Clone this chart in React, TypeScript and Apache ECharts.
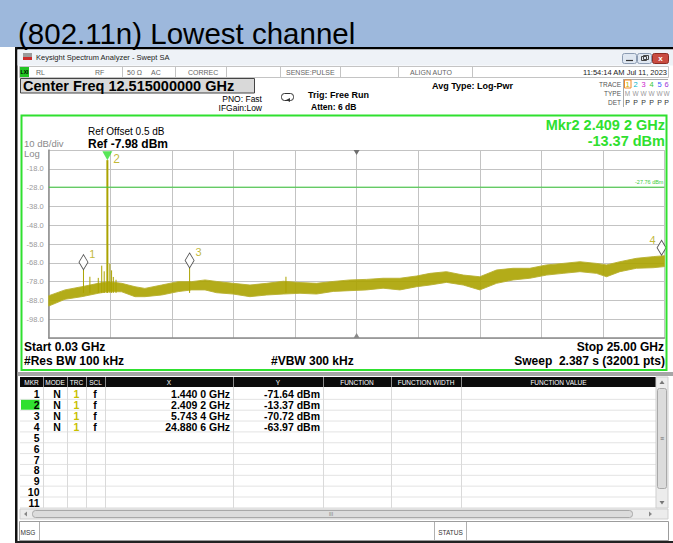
import React, { useEffect, useRef } from 'react';
import * as echarts from 'echarts';

// ---------- data ----------
const START_GHZ = 0.03;
const STOP_GHZ = 25.0;
const CENTER_GHZ = 12.515;
const REF_DBM = -7.98;
const DB_PER_DIV = 10;
const DISPLAY_LINE_DBM = -27.76;
const Y_TICK_LABELS = ['-18.0', '-28.0', '-38.0', '-48.0', '-58.0', '-68.0', '-78.0', '-88.0', '-98.0'];

// noise floor envelope (upper / lower edge of the band)
const NOISE_GHZ = [0.03, 0.69, 1.37, 2.04, 2.45, 2.99, 3.53, 3.93, 4.61, 5.28, 5.83, 6.37, 6.84, 7.51, 8.19, 8.87, 9.54, 10.22, 10.89, 11.57, 12.24, 12.92, 13.59, 14.27, 14.95, 15.49, 16.16, 16.84, 17.51, 18.19, 18.86, 19.54, 20.22, 20.89, 21.57, 22.24, 22.65, 23.19, 23.86, 24.54, 25.0];
const NOISE_UPPER_DBM = [-85.5, -82.4, -80.7, -78.9, -78.0, -78.9, -80.7, -81.6, -79.8, -78.0, -78.0, -77.1, -77.9, -78.9, -79.8, -78.9, -77.8, -78.5, -78.9, -77.9, -77.1, -76.8, -76.2, -76.2, -75.0, -73.6, -72.7, -74.5, -75.4, -71.8, -70.9, -70.9, -69.1, -68.3, -67.4, -68.3, -69.1, -67.4, -65.6, -64.7, -64.2];
const NOISE_LOWER_DBM = [-91.0, -87.4, -86.0, -84.2, -83.3, -83.4, -86.0, -86.0, -85.1, -83.3, -82.4, -82.4, -83.9, -84.6, -86.0, -85.1, -84.6, -84.2, -84.6, -83.2, -82.8, -82.4, -81.5, -82.4, -80.7, -79.8, -78.4, -79.8, -82.4, -78.9, -77.1, -76.2, -74.5, -73.6, -72.7, -73.6, -75.4, -72.7, -70.9, -70.6, -70.0];

// narrow spurs standing out of the noise
const SPIKE_GHZ = [1.44, 1.7, 2.04, 2.18, 2.28, 2.51, 2.58, 2.65, 2.76, 5.7434, 9.65];
const SPIKE_DBM = [-71.64, -75.4, -76.0, -69.5, -72.5, -68.5, -72.0, -75.5, -77.0, -70.72, -75.4];
const SPIKE_BASE_DBM = -84;
const CARRIER_GHZ = [2.4092];
const CARRIER_DBM = [-13.37];

// markers
const MARKER_IDS = ['1', '2', '3', '4'];
const MARKER_GHZ = [1.44, 2.4092, 5.7434, 24.8806];
const MARKER_DBM = [-71.64, -13.37, -70.72, -63.97];
const ACTIVE_MARKER = 1;

const TABLE_ROWS = ['1', '2', '3', '4', '5', '6', '7', '8', '9', '10', '11'];
const TABLE_HEADERS = ['MKR', 'MODE', 'TRC', 'SCL', 'X', 'Y', 'FUNCTION', 'FUNCTION WIDTH', 'FUNCTION VALUE'];

// ---------- styles ----------
const FONT = '"Liberation Sans", Arial, Helvetica, sans-serif';
const TRACE_COLOR = '#aba300';
const GREEN = '#2fe02f';
const GRID_COLOR = '#c3c3c3';

const fmtGHz = (f: number) => {
  const s = f.toFixed(4);
  return s.slice(0, -1) + ' ' + s.slice(-1) + ' GHz';
};
const fmtDbm = (v: number) => v.toFixed(2) + ' dBm';

function T(x: number, y: number, text: string, size: number, o: any = {}) {
  const align = o.align || 'left';
  return {
    type: 'text', x, y, z: 60, silent: true,
    style: {
      text,
      font: `${o.bold ? 'bold ' : ''}${size}px ${FONT}`,
      fill: o.color || '#000',
      align, verticalAlign: 'middle', textAlign: align, textVerticalAlign: 'middle',
    },
  };
}
function R(x: number, y: number, w: number, h: number, fill: string, stroke?: string, lw = 1, z = 5, r = 0) {
  return {
    type: 'rect', z, silent: true,
    shape: { x, y, width: w, height: h, r },
    style: { fill, stroke: stroke || 'none', lineWidth: stroke ? lw : 0 },
  };
}
function L(x1: number, y1: number, x2: number, y2: number, stroke: string, lw = 1, z = 6) {
  return { type: 'line', z, silent: true, shape: { x1, y1, x2, y2 }, style: { stroke, lineWidth: lw } };
}
function P(points: number[][], fill: string, z = 7) {
  return { type: 'polygon', z, silent: true, shape: { points }, style: { fill } };
}

function buildUi() {
  const ui: any[] = [];
  // slide header
  ui.push(R(0, 0, 673, 47, '#9db8dc', undefined, 0, 1));
  ui.push(T(18, 33, '(802.11n) Lowest channel', 29.5, { color: '#000' }));
  ui.push(R(15, 47, 658, 2.5, '#000', undefined, 0, 2));
  ui.push(R(15, 47, 2.5, 496, '#111', undefined, 0, 2));
  ui.push(R(15, 541, 658, 2, '#222', undefined, 0, 2));

  // window title bar
  ui.push(R(17.5, 49.5, 655.5, 16, '#eef2f7', undefined, 0, 2));
  ui.push(R(23, 53, 9, 4, '#9a9a9a', undefined, 0, 3));
  ui.push(R(23, 57, 9, 3, '#cc2a2a', undefined, 0, 3));
  ui.push(T(36, 57.5, 'Keysight Spectrum Analyzer - Swept SA', 7.5, { color: '#222' }));
  ui.push(R(622.5, 53.5, 14, 10, '#dfe7f1', '#8b9bb2', 1, 3, 2));
  ui.push(L(626, 60.5, 633, 60.5, '#333', 1.2, 4));
  ui.push(R(637.5, 53.5, 14, 10, '#dfe7f1', '#8b9bb2', 1, 3, 2));
  ui.push(R(641.5, 56.5, 5, 4, 'none', '#444', 1, 4));
  ui.push(R(643.5, 55.5, 5, 4, 'none', '#444', 1, 4));
  ui.push(R(652.5, 53.5, 16, 10, '#c94b40', '#8c2c24', 1, 3, 2));
  ui.push(T(660.5, 58.5, 'x', 8, { bold: true, color: '#fff', align: 'center' }));

  // status row
  ui.push(R(19.5, 66.5, 649, 11, '#ffffff', '#c4c4c4', 1, 2));
  ui.push(R(20, 67, 9, 10, '#22c422', undefined, 0, 3));
  ui.push(T(24.5, 72, 'LXI', 5, { bold: true, align: 'center', color: '#000' }));
  const stat: [number, string][] = [[36, 'RL'], [95, 'RF'], [127, '50 Ω'], [151, 'AC'], [188, 'CORREC'], [286, 'SENSE:PULSE'], [410, 'ALIGN AUTO']];
  stat.forEach(([x, s]) => ui.push(T(x, 72, s, 7, { color: '#666' })));
  ui.push(T(667, 72, '11:54:14 AM Jul 11, 2023', 7.5, { color: '#222', align: 'right' }));
  [122, 175, 226, 280, 340, 398, 472].forEach((x) => ui.push(L(x + 0.5, 67, x + 0.5, 77, '#c4c4c4', 1, 3)));

  // center freq box
  ui.push(R(20.5, 78.5, 234, 14.5, '#d9d9d9', '#444', 1, 3));
  ui.push(T(23, 86, 'Center Freq 12.515000000 GHz', 14.5, { bold: true }));
  ui.push(T(262, 98.5, 'PNO: Fast', 8.5, { align: 'right' }));
  ui.push(T(262, 107.5, 'IFGain:Low', 8.5, { align: 'right' }));
  ui.push(R(281.5, 93.5, 12, 7, 'none', '#333', 1, 3, 3));
  ui.push(P([[286, 100], [290, 98], [290, 102]], '#333', 4));
  ui.push(T(308, 94.5, 'Trig: Free Run', 9, { bold: true }));
  ui.push(T(311, 106.5, 'Atten: 6 dB', 8.5, { bold: true }));
  ui.push(T(432, 86, 'Avg Type: Log-Pwr', 9, { bold: true }));

  // trace/type/det block
  ui.push(T(621, 84, 'TRACE', 6.5, { color: '#555', align: 'right' }));
  ui.push(T(621, 93, 'TYPE', 6.5, { color: '#555', align: 'right' }));
  ui.push(T(621, 102, 'DET', 6.5, { color: '#555', align: 'right' }));
  ui.push(L(623.5, 79, 623.5, 107, '#aaa', 1, 3));
  ui.push(L(623.5, 79.5, 668, 79.5, '#aaa', 1, 3));
  const trCols = ['#c8b400', '#00b6cc', '#cc22cc', '#33c833', '#3a5cff', '#a035d6'];
  const trX = [627.5, 635.5, 643.5, 651.5, 659.5, 666.5];
  ui.push(R(624.5, 80, 6.5, 8, 'none', '#f08a28', 1, 3));
  trX.forEach((x, i) => {
    ui.push(T(x, 84.5, String(i + 1), 7.5, { color: trCols[i], align: 'center' }));
    ui.push(T(x, 93, i === 0 ? 'M' : 'W', 6.5, { color: '#999', align: 'center' }));
    ui.push(T(x, 102, 'P', 7, { color: '#333', align: 'center' }));
  });

  // graph frame & texts
  ui.push({ type: 'rect', z: 100, silent: true, shape: { x: 21.5, y: 115.5, width: 645, height: 254.5 }, style: { fill: 'none', stroke: GREEN, lineWidth: 2 } });
  ui.push(T(88, 131, 'Ref Offset 0.5 dB', 10));
  ui.push(T(88, 143.5, `Ref ${REF_DBM.toFixed(2)} dBm`, 12, { bold: true }));
  ui.push(T(24, 143.5, `${DB_PER_DIV} dB/div`, 9.5, { color: '#8a8a8a' }));
  ui.push(T(24, 153.5, 'Log', 9.5, { color: '#8a8a8a' }));
  ui.push(T(665, 124.5, `Mkr${MARKER_IDS[ACTIVE_MARKER]} ${fmtGHz(MARKER_GHZ[ACTIVE_MARKER])}`, 14.5, { bold: true, color: GREEN, align: 'right' }));
  ui.push(T(665, 140.5, fmtDbm(MARKER_DBM[ACTIVE_MARKER]), 14.5, { bold: true, color: GREEN, align: 'right' }));
  ui.push(T(24, 347, `Start ${START_GHZ.toFixed(2)} GHz`, 12, { bold: true }));
  ui.push(T(24, 361, '#Res BW 100 kHz', 12, { bold: true }));
  ui.push(T(271, 361, '#VBW 300 kHz', 12, { bold: true }));
  ui.push(T(664, 347, `Stop ${STOP_GHZ.toFixed(2)} GHz`, 12, { bold: true, align: 'right' }));
  ui.push(T(665, 361, 'Sweep  2.387 s (32001 pts)', 12, { bold: true, align: 'right' }));

  // marker table
  ui.push(R(17.5, 372, 655.5, 4, '#a6a6a6', undefined, 0, 2));
  const cols = [20, 43, 67, 86, 105, 233, 323, 391, 461, 656];
  ui.push(R(20, 377, 636, 10, '#0b0b0b', undefined, 0, 3));
  TABLE_HEADERS.forEach((h, i) => ui.push(T((cols[i] + cols[i + 1]) / 2, 382.5, h, 6.5, { color: '#fff', align: 'center' })));
  cols.slice(1, -1).forEach((x) => ui.push(L(x + 0.5, 377, x + 0.5, 387, '#8a8a8a', 1, 4)));
  ui.push(R(20, 387, 636, 121, '#ffffff', undefined, 0, 2));
  const rowTop = 388.5, rowH = 10.85;
  for (let k = 1; k <= 11; k++) ui.push(L(20, rowTop + k * rowH, 656, rowTop + k * rowH, '#e3e3e3', 1, 3));
  cols.slice(1, -1).forEach((x) => ui.push(L(x + 0.5, 387, x + 0.5, 508, '#dadada', 1, 3)));
  ui.push(R(21, rowTop + rowH * ACTIVE_MARKER + 0.5, 18.5, rowH - 1, GREEN, undefined, 0, 4));
  TABLE_ROWS.forEach((r, i) => {
    const y = rowTop + rowH * i + rowH / 2 + 0.5;
    ui.push(T(39.5, y, r, 10.5, { bold: true, align: 'right' }));
    if (i < MARKER_IDS.length) {
      ui.push(T(57, y, 'N', 10.5, { bold: true, align: 'center' }));
      ui.push(T(76.5, y, '1', 10.5, { bold: true, align: 'center', color: '#c8c000' }));
      ui.push(T(95, y, 'f', 10.5, { bold: true, align: 'center' }));
      ui.push(T(230, y, fmtGHz(MARKER_GHZ[i]), 10.5, { bold: true, align: 'right' }));
      ui.push(T(320, y, fmtDbm(MARKER_DBM[i]), 10.5, { bold: true, align: 'right' }));
    }
  });
  // vertical scrollbar
  ui.push(R(656, 377, 12, 131, '#ececec', '#cfcfcf', 1, 3));
  ui.push(P([[659.5, 384], [664.5, 384], [662, 380.5]], '#777', 5));
  ui.push(R(657.5, 388.5, 9, 100, '#dcdcdc', '#a9a9a9', 1, 4, 2));
  ui.push(T(662, 438.5, '≡', 7, { color: '#666', align: 'center' }));
  ui.push(P([[659.5, 501], [664.5, 501], [662, 504.5]], '#777', 5));
  // horizontal scrollbar
  ui.push(R(20, 509, 648, 10, '#ececec', '#cfcfcf', 1, 3));
  ui.push(P([[27, 511.5], [27, 516.5], [24, 514]], '#888', 5));
  ui.push(R(32.5, 510.5, 600, 7, '#dcdcdc', '#a9a9a9', 1, 4, 3));
  ui.push(T(331, 514, 'III', 5, { color: '#777', align: 'center' }));
  ui.push(P([[649, 511.5], [649, 516.5], [652, 514]], '#888', 5));
  // msg row
  ui.push(R(19.5, 521.5, 649, 19, '#ffffff', '#9c9c9c', 1, 3));
  ui.push(T(20.5, 532, 'MSG', 6.5, { color: '#333' }));
  ui.push(L(39.5, 522, 39.5, 540, '#b0b0b0', 1, 4));
  ui.push(L(434.5, 522, 434.5, 540, '#b0b0b0', 1, 4));
  ui.push(L(466.5, 522, 466.5, 540, '#b0b0b0', 1, 4));
  ui.push(T(450.5, 532, 'STATUS', 6.5, { color: '#333', align: 'center' }));
  return ui;
}

function buildOption(): any {
  const diamondIdx = MARKER_IDS.map((_, i) => i).filter((i) => i !== ACTIVE_MARKER);
  return {
    animation: false,
    backgroundColor: '#ffffff',
    textStyle: { fontFamily: FONT },
    grid: { left: 48.7, top: 150, right: 8.5, bottom: 205, containLabel: false },
    xAxis: [
      { type: 'value', min: START_GHZ, max: STOP_GHZ, show: false },
      {
        type: 'value', min: 0, max: 10, interval: 1, position: 'bottom',
        axisLine: { show: true, lineStyle: { color: '#8c8c8c', width: 1.5 } },
        axisTick: { show: false }, axisLabel: { show: false },
        splitLine: { show: true, lineStyle: { color: GRID_COLOR, width: 1 } },
      },
    ],
    yAxis: [
      { type: 'value', min: REF_DBM - 10 * DB_PER_DIV, max: REF_DBM, show: false },
      {
        type: 'value', min: 0, max: 10, interval: 1, position: 'left',
        axisLine: { show: true, lineStyle: { color: '#8c8c8c', width: 1.5 } },
        axisTick: { show: false },
        axisLabel: {
          show: true, margin: 5, fontSize: 7.5, color: '#9a9a9a', fontFamily: FONT,
          formatter: (v: number) => (v >= 1 && v <= 9 ? Y_TICK_LABELS[9 - v] : ''),
        },
        splitLine: { show: true, lineStyle: { color: GRID_COLOR, width: 1 } },
      },
    ],
    graphic: { elements: buildUi() },
    series: [
      {
        name: 'noise', type: 'custom', xAxisIndex: 0, yAxisIndex: 0, silent: true, z: 3,
        data: [[START_GHZ, NOISE_UPPER_DBM[0]]],
        renderItem: (_p: any, api: any) => {
          const pts: number[][] = [];
          for (let i = 0; i < NOISE_GHZ.length; i++) pts.push(api.coord([NOISE_GHZ[i], NOISE_UPPER_DBM[i]]));
          for (let i = NOISE_GHZ.length - 1; i >= 0; i--) pts.push(api.coord([NOISE_GHZ[i], NOISE_LOWER_DBM[i]]));
          return { type: 'polygon', shape: { points: pts }, style: { fill: TRACE_COLOR, opacity: 0.9, stroke: '#b8b030', lineWidth: 1 } };
        },
      },
      {
        name: 'spurs', type: 'custom', xAxisIndex: 0, yAxisIndex: 0, silent: true, z: 4,
        data: SPIKE_GHZ.map((f, i) => [f, SPIKE_DBM[i]]),
        renderItem: (_p: any, api: any) => {
          const top = api.coord([api.value(0), api.value(1)]);
          const bot = api.coord([api.value(0), SPIKE_BASE_DBM]);
          return { type: 'line', shape: { x1: top[0], y1: top[1], x2: bot[0], y2: bot[1] }, style: { stroke: TRACE_COLOR, lineWidth: 1 } };
        },
      },
      {
        name: 'carrier', type: 'custom', xAxisIndex: 0, yAxisIndex: 0, silent: true, z: 4,
        data: CARRIER_GHZ.map((f, i) => [f, CARRIER_DBM[i]]),
        renderItem: (_p: any, api: any) => {
          const top = api.coord([api.value(0), api.value(1)]);
          const bot = api.coord([api.value(0), SPIKE_BASE_DBM]);
          return { type: 'line', shape: { x1: top[0], y1: top[1], x2: bot[0], y2: bot[1] }, style: { stroke: TRACE_COLOR, lineWidth: 2 } };
        },
      },
      {
        name: 'display line', type: 'line', xAxisIndex: 0, yAxisIndex: 0, silent: true, z: 5,
        symbol: 'none',
        data: [[START_GHZ, DISPLAY_LINE_DBM], [STOP_GHZ, DISPLAY_LINE_DBM]],
        lineStyle: { color: '#3ccc3c', width: 1 },
        markPoint: {
          silent: true,
          data: [
            { coord: [STOP_GHZ, DISPLAY_LINE_DBM], symbol: 'rect', symbolSize: 0.1,
              label: { show: true, formatter: `${DISPLAY_LINE_DBM.toFixed(2)} dBm`, position: 'left', distance: 1, offset: [0, -5], fontSize: 5.5, color: '#3ccc3c', fontFamily: FONT } },
            { coord: [CENTER_GHZ, REF_DBM], symbol: 'triangle', symbolRotate: 180, symbolSize: [6, 5], symbolOffset: [0, '50%'], itemStyle: { color: '#6e6e6e' }, label: { show: false } },
            { coord: [CENTER_GHZ, REF_DBM - 10 * DB_PER_DIV], symbol: 'triangle', symbolSize: [6, 5], symbolOffset: [0, '-50%'], itemStyle: { color: '#8a8a8a' }, label: { show: false } },
          ],
        },
      },
      {
        name: 'markers', type: 'scatter', xAxisIndex: 0, yAxisIndex: 0, silent: true, z: 8, clip: false,
        symbol: 'diamond', symbolSize: [9, 15], symbolOffset: [0, '-50%'],
        itemStyle: { color: '#ffffff', borderColor: '#2a2a2a', borderWidth: 0.9 },
        data: diamondIdx.map((i) => ({
          value: [MARKER_GHZ[i], MARKER_DBM[i]],
          label: {
            show: true, formatter: MARKER_IDS[i], fontSize: 11, color: '#b2a600', fontFamily: FONT,
            position: i === MARKER_IDS.length - 1 ? 'left' : 'right', distance: 1, offset: [0, -8],
          },
        })),
      },
      {
        name: 'active marker', type: 'scatter', xAxisIndex: 0, yAxisIndex: 0, silent: true, z: 9, clip: false,
        symbol: 'triangle', symbolRotate: 180, symbolSize: [10, 9], symbolOffset: [0, '-50%'],
        itemStyle: { color: GREEN },
        data: [{
          value: [MARKER_GHZ[ACTIVE_MARKER], MARKER_DBM[ACTIVE_MARKER]],
          label: { show: true, formatter: MARKER_IDS[ACTIVE_MARKER], fontSize: 12, color: '#b2a600', fontFamily: FONT, position: 'right', distance: 1, offset: [0, 3] },
        }],
      },
    ],
  };
}

export default function App() {
  const ref = useRef<HTMLDivElement>(null);
  useEffect(() => {
    const chart = echarts.init(ref.current as HTMLDivElement, null, { renderer: 'svg', width: 673, height: 543 });
    chart.setOption(buildOption());
    return () => chart.dispose();
  }, []);
  return <div ref={ref} style={{ position: 'absolute', left: 0, top: 0, width: 673, height: 543 }} />;
}
